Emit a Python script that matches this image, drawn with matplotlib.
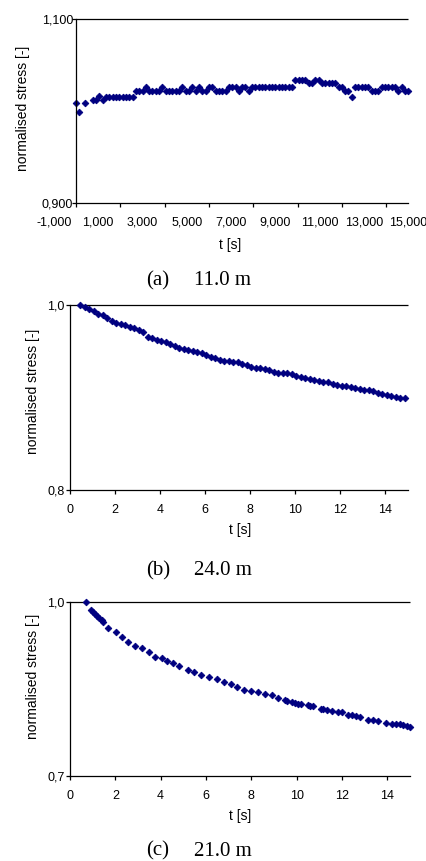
import numpy as np
import matplotlib.pyplot as plt
from matplotlib.ticker import FuncFormatter

plt.rcParams['font.family'] = ['Liberation Sans', 'DejaVu Sans']

W, H = 427, 861
NAVY = '#000080'

# (a) 11.0 m, time in seconds
t_a = [0, 150, 420] + list(range(750, 15001, 150))
s_a = [1.0083, 0.9993, 1.0083,
       1.0120, 1.0120, 1.0167, 1.0120, 1.0156, 1.0156, 1.0156, 1.0156, 1.0156, 1.0156,
       1.0156, 1.0156, 1.0156, 1.0221, 1.0221, 1.0221, 1.0257, 1.0221, 1.0221, 1.0221,
       1.0221, 1.0257, 1.0221, 1.0221, 1.0221, 1.0221, 1.0221, 1.0257, 1.0221, 1.0221,
       1.0257, 1.0221, 1.0257, 1.0221, 1.0221, 1.0257, 1.0257, 1.0221, 1.0221, 1.0221,
       1.0221, 1.0257, 1.0257, 1.0257, 1.0221, 1.0257, 1.0257, 1.0221, 1.0257, 1.0257,
       1.0257, 1.0257, 1.0257, 1.0257, 1.0257, 1.0257, 1.0257, 1.0257, 1.0257, 1.0257,
       1.0257, 1.0337, 1.0337, 1.0337, 1.0337, 1.0300, 1.0300, 1.0337, 1.0337, 1.0300,
       1.0300, 1.0300, 1.0300, 1.0300, 1.0257, 1.0257, 1.0221, 1.0221, 1.0156, 1.0257,
       1.0257, 1.0257, 1.0257, 1.0257, 1.0221, 1.0221, 1.0221, 1.0257, 1.0257, 1.0257,
       1.0257, 1.0257, 1.0221, 1.0257, 1.0221, 1.0221]

# (b) 24.0 m, sampled every 0.2 s
t_b = np.round(np.arange(0.45, 14.86, 0.2), 2)
s_b = [1.000, 0.998, 0.996, 0.994, 0.991, 0.989, 0.986, 0.983, 0.981, 0.980,
       0.979, 0.977, 0.975, 0.973, 0.971, 0.966, 0.964, 0.962, 0.961, 0.960,
       0.958, 0.956, 0.954, 0.953, 0.952, 0.950, 0.949, 0.948, 0.946, 0.944,
       0.943, 0.941, 0.940, 0.940, 0.939, 0.938, 0.936, 0.935, 0.933, 0.932,
       0.932, 0.931, 0.930, 0.928, 0.927, 0.927, 0.927, 0.925, 0.923, 0.922,
       0.921, 0.920, 0.919, 0.918, 0.917, 0.917, 0.915, 0.914, 0.913, 0.912,
       0.911, 0.910, 0.909, 0.908, 0.908, 0.907, 0.905, 0.904, 0.903, 0.902,
       0.901, 0.900, 0.899]

# (c) 21.0 m
t_c = [0.69, 0.93, 1.01, 1.10, 1.19, 1.28, 1.40, 1.46, 1.69, 2.01,
       2.28, 2.57, 2.87, 3.19, 3.48, 3.75, 4.04, 4.26, 4.56, 4.81,
       5.19, 5.48, 5.78, 6.13, 6.47, 6.81, 7.10, 7.35, 7.69, 7.98,
       8.28, 8.60, 8.90, 9.19, 9.48, 9.56, 9.78, 9.93, 10.07, 10.19,
       10.48, 10.59, 10.73, 11.07, 11.18, 11.32, 11.54, 11.84, 12.01, 12.28,
       12.42, 12.60, 12.79, 13.13, 13.38, 13.57, 13.93, 14.19, 14.37, 14.56,
       14.70, 14.85, 15.00]
s_c = [1.000, 0.986, 0.982, 0.979, 0.976, 0.973, 0.969, 0.966, 0.955, 0.949,
       0.939, 0.931, 0.925, 0.920, 0.914, 0.906, 0.903, 0.898, 0.894, 0.889,
       0.882, 0.879, 0.874, 0.871, 0.867, 0.862, 0.858, 0.854, 0.849, 0.847,
       0.844, 0.842, 0.839, 0.835, 0.831, 0.830, 0.828, 0.826, 0.825, 0.824,
       0.822, 0.821, 0.821, 0.816, 0.815, 0.814, 0.812, 0.810, 0.810, 0.806,
       0.805, 0.803, 0.801, 0.797, 0.797, 0.795, 0.792, 0.790, 0.790, 0.789,
       0.788, 0.787, 0.784]

captions = [('(a)', '11.0 m'), ('(b)', '24.0 m'), ('(c)', '21.0 m')]

fig = plt.figure(figsize=(W / 100, H / 100), dpi=100)


def px_axes(l, t, r, b):
    return fig.add_axes([l / W, 1 - b / H, (r - l) / W, (b - t) / H])


def px_text(x, y, s, **kw):
    fig.text(x / W, 1 - y / H, s, **kw)


def comma(fmt):
    return FuncFormatter(lambda v, p: format(v, fmt).replace('.', ','))


def style(ax, ymin, ymax, yfmt, x0, x1):
    ax.set_ylim(ymin, ymax)
    ax.set_yticks([ymin, ymax])
    ax.yaxis.set_major_formatter(comma(yfmt))
    ax.spines['top'].set_visible(False)
    ax.spines['right'].set_visible(False)
    for s in ('left', 'bottom'):
        ax.spines[s].set_linewidth(0.9)
    ax.tick_params(direction='out', length=3, width=0.9, labelsize=9)
    ax.tick_params(axis='x', pad=7)
    ax.tick_params(axis='y', pad=1)
    ax.hlines(ymax, x0, x1, color='black', lw=0.9, clip_on=False)


def scatter(ax, t, s):
    ax.plot(t, s, ls='none', marker='D', ms=3.4, mfc=NAVY, mec=NAVY,
            mew=0.6, clip_on=False)


# panel (a)
ax_a = px_axes(53.9, 19, 408.3, 203)
ax_a.set_xlim(-1000, 15000)
style(ax_a, 0.9, 1.1, '.3f', 0, 15000)
ax_a.spines['left'].set_position(('data', 0))
ax_a.spines['bottom'].set_bounds(0, 15000)
ax_a.set_xticks(range(-1000, 15001, 2000))
ax_a.xaxis.set_major_formatter(FuncFormatter(lambda v, p: f'{int(v):,}'))
ax_a.set_xticks(range(0, 15001, 1000), minor=True)
ax_a.tick_params(axis='x', which='major', length=0, pad=10)
ax_a.tick_params(axis='x', which='minor', length=3, width=0.9)
ax_a.tick_params(axis='y', pad=-1)
scatter(ax_a, t_a, s_a)

# panel (b)
ax_b = px_axes(70, 305.3, 408, 489.7)
ax_b.set_xlim(0, 15)
style(ax_b, 0.8, 1.0, '.1f', 0, 15)
ax_b.set_xticks(range(0, 15, 2))
scatter(ax_b, t_b, s_b)

# panel (c)
ax_c = px_axes(70, 602, 410, 776)
ax_c.set_xlim(0, 15)
style(ax_c, 0.7, 1.0, '.1f', 0, 15)
ax_c.set_xticks(range(0, 15, 2))
scatter(ax_c, t_c, s_c)

# axis titles
for x, y in [(23, 108), (33, 391), (33, 676)]:
    px_text(x, y, 'normalised stress [-]', rotation=90, ha='center',
            va='center', fontsize=10)
for x, y in [(230, 245), (240, 530), (240, 816)]:
    px_text(x, y, 't [s]', ha='center', va='center', fontsize=10)

# captions
for (lab, depth), yb in zip(captions, [285, 575, 855.5]):
    px_text(145.7, yb, lab, ha='left', va='baseline', fontsize=15,
            family='Liberation Serif')
    px_text(194, yb, depth, ha='left', va='baseline', fontsize=15,
            family='Liberation Serif')

fig.savefig('out.png', dpi=100)
